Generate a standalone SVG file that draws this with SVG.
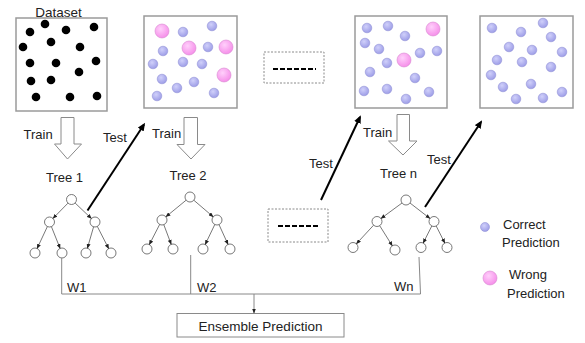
<svg xmlns="http://www.w3.org/2000/svg" width="585" height="343" viewBox="0 0 585 343">
<style>
text{font-family:"Liberation Sans",Arial,sans-serif;font-size:13px;fill:#222}
.box{fill:#fff;stroke:#9a9a9a;stroke-width:1.5}
.blk{fill:#000}
.b{fill:url(#gb);stroke:#9494d6;stroke-width:0.6}
.p{fill:url(#gp);stroke:#d68ad0;stroke-width:0.6}
.blockarrow{fill:#fff;stroke:#8a8a8a;stroke-width:1}
.node{fill:#fff;stroke:#555;stroke-width:0.8}
.edge{stroke:#555;stroke-width:0.8;fill:none;marker-end:url(#sm)}
.test{stroke:#000;stroke-width:2;fill:none;marker-end:url(#big)}
.wl{stroke:#888;stroke-width:1;fill:none}
.dbox{fill:#fff;stroke:#8a8a8a;stroke-width:1;stroke-dasharray:2,1.5}
.dash{stroke:#000;stroke-width:2.2;stroke-dasharray:5,2}
</style>
<defs>
<radialGradient id="gb" cx="0.4" cy="0.35" r="0.7">
<stop offset="0" stop-color="#d0d0fa"/><stop offset="1" stop-color="#9a9ae6"/>
</radialGradient>
<radialGradient id="gp" cx="0.4" cy="0.35" r="0.7">
<stop offset="0" stop-color="#ffd0fb"/><stop offset="1" stop-color="#f58ae8"/>
</radialGradient>
<marker id="sm" markerWidth="5" markerHeight="4" refX="4.5" refY="2" orient="auto" markerUnits="userSpaceOnUse">
<path d="M0,0 L5,2 L0,4 Z" fill="#222"/>
</marker>
<marker id="big" markerWidth="8" markerHeight="7" refX="6" refY="3.5" orient="auto" markerUnits="userSpaceOnUse">
<path d="M0,0 L8,3.5 L0,7 Z" fill="#000"/>
</marker>
</defs>
<rect width="585" height="343" fill="#fff"/>

<g id="dataset">
<text x="58.5" y="16.5" text-anchor="middle" style="font-size:13.5px">Dataset</text>
<rect class="box" x="16" y="18" width="91" height="93"/>
<circle class="blk" cx="30" cy="32" r="4.3"/><circle class="blk" cx="45" cy="24" r="4.3"/>
<circle class="blk" cx="66" cy="30" r="4.3"/><circle class="blk" cx="94" cy="27" r="4.3"/>
<circle class="blk" cx="51" cy="42" r="4.3"/><circle class="blk" cx="23" cy="47" r="4.3"/>
<circle class="blk" cx="80" cy="47" r="4.3"/><circle class="blk" cx="30" cy="63" r="4.3"/>
<circle class="blk" cx="56" cy="63" r="4.3"/><circle class="blk" cx="96" cy="61" r="4.3"/>
<circle class="blk" cx="79" cy="72" r="4.3"/><circle class="blk" cx="31" cy="81" r="4.3"/>
<circle class="blk" cx="51" cy="80" r="4.3"/><circle class="blk" cx="36" cy="97" r="4.3"/>
<circle class="blk" cx="70" cy="97" r="4.3"/><circle class="blk" cx="97" cy="96" r="4.3"/>
</g>

<g id="result1">
<rect class="box" x="144" y="16" width="93" height="92"/>
<circle class="p" cx="162" cy="31" r="7"/><circle class="b" cx="183" cy="32" r="4.8"/>
<circle class="b" cx="212" cy="26" r="4.8"/><circle class="b" cx="163" cy="51" r="4.8"/>
<circle class="p" cx="189" cy="48" r="7"/><circle class="b" cx="208" cy="47" r="4.8"/>
<circle class="p" cx="226" cy="47" r="7"/><circle class="b" cx="153" cy="64" r="4.8"/>
<circle class="b" cx="183" cy="62" r="4.8"/><circle class="b" cx="202" cy="64" r="4.8"/>
<circle class="p" cx="224" cy="75" r="7"/><circle class="b" cx="162" cy="79" r="4.8"/>
<circle class="b" cx="194" cy="82" r="4.8"/><circle class="b" cx="177" cy="88" r="4.8"/>
<circle class="b" cx="214" cy="93" r="4.8"/><circle class="b" cx="157" cy="96" r="4.8"/>
</g>

<g id="ellipsis-top">
<rect class="dbox" x="264" y="52" width="60" height="31"/>
<line class="dash" x1="273" y1="69" x2="316" y2="69"/>
</g>

<g id="result-n">
<rect class="box" x="355" y="16" width="92" height="92"/>
<circle class="b" cx="367" cy="28" r="4.8"/><circle class="b" cx="388" cy="26" r="4.8"/>
<circle class="b" cx="405" cy="36" r="4.8"/><circle class="p" cx="433" cy="29" r="7"/>
<circle class="b" cx="365" cy="43" r="4.8"/><circle class="b" cx="379" cy="49" r="4.8"/>
<circle class="b" cx="420" cy="53" r="4.8"/><circle class="b" cx="437" cy="51" r="4.8"/>
<circle class="p" cx="404" cy="60" r="7"/><circle class="b" cx="387" cy="63" r="4.8"/>
<circle class="b" cx="370" cy="72" r="4.8"/><circle class="b" cx="415" cy="78" r="4.8"/>
<circle class="b" cx="364" cy="91" r="4.8"/><circle class="b" cx="387" cy="89" r="4.8"/>
<circle class="b" cx="429" cy="92" r="4.8"/><circle class="b" cx="406" cy="99" r="4.8"/>
</g>

<g id="result-final">
<rect class="box" x="480" y="16" width="93" height="92"/>
<circle class="b" cx="492" cy="28" r="4.8"/><circle class="b" cx="521" cy="32" r="4.8"/>
<circle class="b" cx="543" cy="23" r="4.8"/><circle class="b" cx="551" cy="37" r="4.8"/>
<circle class="b" cx="509" cy="47" r="4.8"/><circle class="b" cx="532" cy="50" r="4.8"/>
<circle class="b" cx="562" cy="52" r="4.8"/><circle class="b" cx="497" cy="60" r="4.8"/>
<circle class="b" cx="522" cy="62" r="4.8"/><circle class="b" cx="551" cy="67" r="4.8"/>
<circle class="b" cx="491" cy="75" r="4.8"/><circle class="b" cx="503" cy="87" r="4.8"/>
<circle class="b" cx="531" cy="84" r="4.8"/><circle class="b" cx="562" cy="92" r="4.8"/>
<circle class="b" cx="516" cy="99" r="4.8"/><circle class="b" cx="543" cy="98" r="4.8"/>
</g>

<g id="train1">
<path class="blockarrow" d="M61,117.5 H74 V144 H81.5 L67.5,159 L54.5,144 H61 Z"/>
<text x="23.5" y="139">Train</text>
</g>
<g id="train2">
<path class="blockarrow" d="M184,117.5 H197.5 V144.5 H205 L191,159 L177,144.5 H184 Z"/>
<text x="152" y="138">Train</text>
</g>
<g id="train-n">
<path class="blockarrow" d="M397,114.5 H409.5 V141 H417 L403,155 L388.5,141 H397 Z"/>
<text x="363" y="137">Train</text>
</g>

<g id="tree1">
<text x="46" y="182">Tree 1</text>
<circle class="node" cx="71.5" cy="199.5" r="5"/>
<circle class="node" cx="49.5" cy="222" r="5"/><circle class="node" cx="95" cy="222" r="5"/>
<circle class="node" cx="35" cy="253" r="5"/><circle class="node" cx="62" cy="253" r="5"/>
<circle class="node" cx="86" cy="253" r="5"/><circle class="node" cx="111" cy="253" r="5"/>
<path class="edge" d="M68,203.1 L53,218.4"/><path class="edge" d="M75.1,203 L91.4,218.5"/>
<path class="edge" d="M47.4,226.5 L37.1,248.5"/><path class="edge" d="M51.4,226.6 L60.1,248.4"/>
<path class="edge" d="M93.6,226.8 L87.4,248.2"/><path class="edge" d="M97.3,226.4 L108.7,248.6"/>
</g>

<g id="tree2">
<text x="169.5" y="179.5">Tree 2</text>
<circle class="node" cx="190" cy="197" r="5"/>
<circle class="node" cx="162" cy="220" r="5"/><circle class="node" cx="217" cy="220" r="5"/>
<circle class="node" cx="147" cy="249" r="5"/><circle class="node" cx="173" cy="249" r="5"/>
<circle class="node" cx="203" cy="249" r="5"/><circle class="node" cx="230" cy="249" r="5"/>
<path class="edge" d="M186.1,200.2 L165.9,216.8"/><path class="edge" d="M193.8,200.2 L213.2,216.8"/>
<path class="edge" d="M159.7,224.4 L149.3,244.6"/><path class="edge" d="M163.8,224.7 L171.2,244.3"/>
<path class="edge" d="M214.8,224.5 L205.2,244.5"/><path class="edge" d="M219,224.6 L228,244.4"/>
</g>

<g id="ellipsis-bottom">
<rect class="dbox" x="268" y="209" width="60" height="33"/>
<line class="dash" x1="278" y1="226" x2="320" y2="226"/>
</g>

<g id="tree-n">
<text x="380" y="178">Tree n</text>
<circle class="node" cx="406" cy="200" r="5"/>
<circle class="node" cx="377" cy="221.5" r="5"/><circle class="node" cx="434" cy="221.5" r="5"/>
<circle class="node" cx="353" cy="247.5" r="5"/><circle class="node" cx="395" cy="250" r="5"/>
<circle class="node" cx="421" cy="247.5" r="5"/><circle class="node" cx="447" cy="247.5" r="5"/>
<path class="edge" d="M402,203 L381,218.5"/><path class="edge" d="M410,203 L430,218.5"/>
<path class="edge" d="M373.6,225.2 L356.4,243.8"/><path class="edge" d="M379.7,225.7 L392.3,245.8"/>
<path class="edge" d="M431.8,226 L423.2,243"/><path class="edge" d="M436.2,226 L444.8,243"/>
</g>

<g id="legend">
<circle class="b" cx="485" cy="227" r="4.5"/>
<text x="503" y="229">Correct</text>
<text x="502" y="247">Prediction</text>
<circle class="p" cx="490" cy="278" r="7"/>
<text x="509" y="279">Wrong</text>
<text x="507" y="298">Prediction</text>
</g>

<g id="ensemble">
<rect x="177" y="313.5" width="167" height="23.5" fill="#fff" stroke="#8a8a8a" stroke-width="1"/>
<text x="260.5" y="331" text-anchor="middle" style="font-size:13.5px">Ensemble Prediction</text>
</g>

<g id="connectors">
<path class="test" d="M87.5,210.5 L144,124.5"/>
<text x="103" y="142">Test</text>
<path class="test" d="M321,200 L360,117"/>
<text x="309" y="168">Test</text>
<path class="test" d="M425,207 L481,122"/>
<text x="427" y="164">Test</text>
<path class="wl" d="M61.7,258 V294 H420.5 L419,257"/>
<path class="wl" d="M190.7,255 V294"/>
<path class="wl" d="M254,294 V313" marker-end="url(#sm)"/>
<text x="67" y="292">W1</text>
<text x="197" y="292">W2</text>
<text x="394" y="290.5">Wn</text>
</g>
</svg>
